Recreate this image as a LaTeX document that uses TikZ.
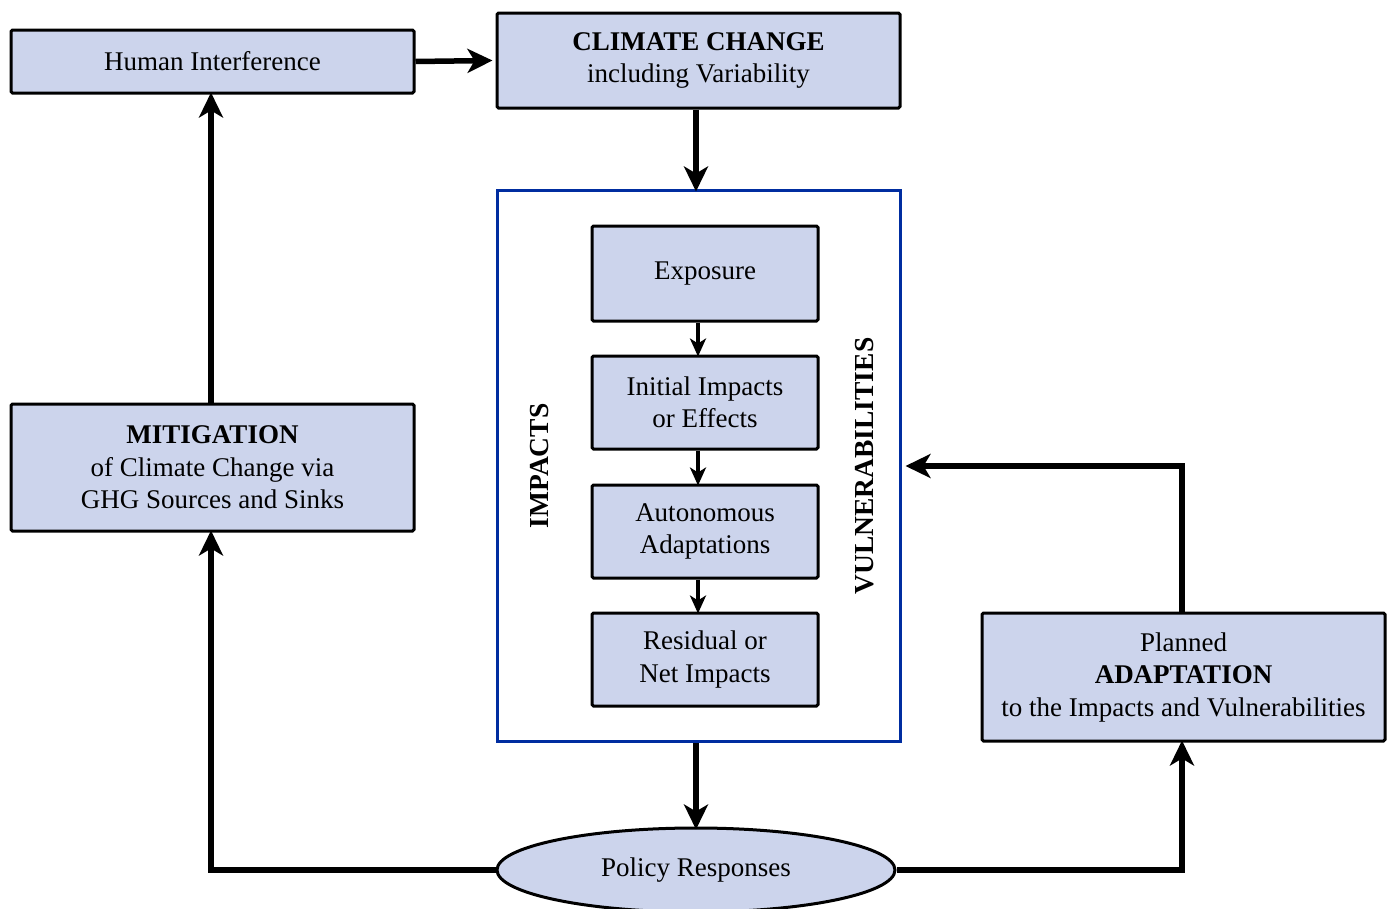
\documentclass[tikz,border=0pt]{standalone}
\usepackage{fontspec}
\setmainfont{Liberation Serif}
\usetikzlibrary{arrows.meta,shapes.geometric,positioning}
\definecolor{boxfill}{RGB}{204,212,236}
\definecolor{bigblue}{RGB}{0,45,160}
\begin{document}
\begin{tikzpicture}[x=1pt,y=-1pt,
  box/.style={draw=black,line width=3pt,fill=boxfill,rounded corners=1.5pt,inner sep=0pt,align=center,font=\fontsize{27}{32.5}\selectfont},
  bigarrow/.style={line width=5.5pt,-{Stealth[length=25pt,width=24pt,inset=7pt]}},
  smallarrow/.style={line width=3.2pt,-{Stealth[length=18pt,width=16pt,inset=5pt]}},
  vtext/.style={rotate=90,font=\fontsize{27.5}{30}\bfseries\selectfont}]
\useasboundingbox (0,0) rectangle (1387,908);
\clip (0,0) rectangle (1387,908);
% boxes
\node[box,minimum width=403pt,minimum height=63pt] (hi) at (212.5,61.5) {Human Interference};
\node[box,minimum width=403pt,minimum height=95pt] (cc) at (698.5,60.5) {\textbf{CLIMATE CHANGE}\\including Variability};
\node[draw=bigblue,line width=3pt,fill=white,minimum width=403pt,minimum height=551pt,inner sep=0pt] (big) at (698.5,465.5) {};
\node[box,minimum width=226pt,minimum height=95pt] (exp) at (705,273.5) {Exposure};
\node[box,minimum width=226pt,minimum height=93pt] (ini) at (705,402.5) {Initial Impacts\\or Effects};
\node[box,minimum width=226pt,minimum height=93pt] (aut) at (705,531.5) {Autonomous\\Adaptations};
\node[box,minimum width=226pt,minimum height=93pt] (res) at (705,659.5) {Residual or\\Net Impacts};
\node[box,minimum width=403pt,minimum height=127pt] (mit) at (212.5,467.5) {\textbf{MITIGATION}\\of Climate Change via\\GHG Sources and Sinks};
\node[box,minimum width=403pt,minimum height=128pt] (pla) at (1183.5,677) {Planned\\\textbf{ADAPTATION}\\to the Impacts and Vulnerabilities};
\node[box,ellipse,minimum width=398pt,minimum height=84pt] (pol) at (696,870) {Policy Responses};
\node[vtext] (imp) at (540,466) {IMPACTS};
\node[vtext] (vul) at (865,466) {VULNERABILITIES};
% connectors
\draw[bigarrow] (hi.east) -- ([xshift=-3pt]cc.west);
\draw[bigarrow] (cc.south -| 696,0) -- ([yshift=-3pt]big.north -| 696,0);
\draw[smallarrow] (exp.south -| 698,0) -- ([yshift=-2pt]ini.north -| 698,0);
\draw[smallarrow] (ini.south -| 698,0) -- ([yshift=-2pt]aut.north -| 698,0);
\draw[smallarrow] (aut.south -| 698,0) -- ([yshift=-2pt]res.north -| 698,0);
\draw[bigarrow] (big.south -| 696,0) -- ([yshift=-3pt]pol.north);
\draw[bigarrow] (pol.west) -| ([yshift=2pt]mit.south -| 211,0);
\draw[bigarrow] (mit.north -| 211,0) -- ([yshift=2pt]hi.south -| 211,0);
\draw[bigarrow] (pol.east) -| ([yshift=2pt]pla.south -| 1182,0);
\draw[bigarrow] (pla.north -| 1182,0) |- ([xshift=4pt]big.east |- 0,466);
\end{tikzpicture}
\end{document}
